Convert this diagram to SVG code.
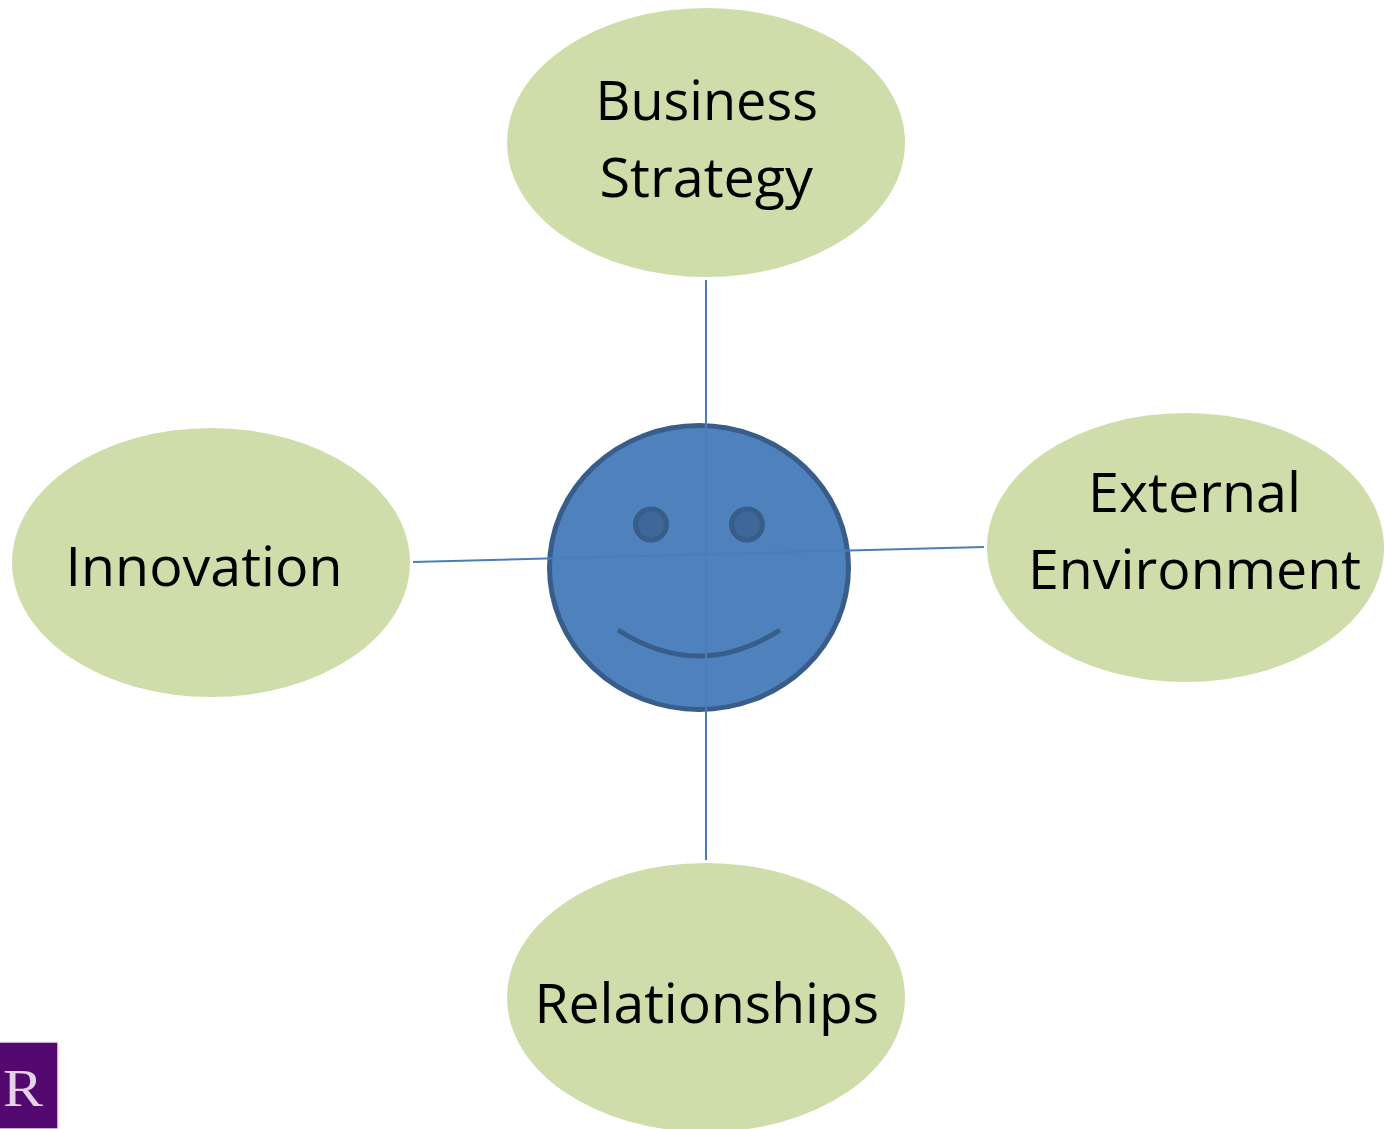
<svg xmlns="http://www.w3.org/2000/svg" width="1384" height="1129" viewBox="0 0 1384 1129">
<style>
.oval{fill:#cfddab}
.lbl{font-family:"Open Sans","Noto Sans","Liberation Sans",sans-serif;font-size:54px;fill:#000}
.conn{stroke:#4a7dba;stroke-width:2;fill:none}
.feat{stroke:#385d8a;stroke-width:5}
</style>
<rect width="1384" height="1129" fill="#fff"/>
<g id="logo">
<rect x="-4" y="1042" width="62" height="87" fill="#52086f" stroke="#f3e6f5" stroke-width="1.500"/>
<text x="3" y="1106" font-family="Liberation Serif,serif" font-size="52" fill="#e6d2e6" textLength="40" lengthAdjust="spacingAndGlyphs">R</text>
</g>
<g id="node-business-strategy">
<ellipse class="oval" cx="706" cy="142.500" rx="199" ry="134.500"/>
<text class="lbl" x="595.500" y="120" textLength="222.500" lengthAdjust="spacingAndGlyphs">Business</text>
<text class="lbl" x="599.500" y="197" textLength="213.500" lengthAdjust="spacingAndGlyphs">Strategy</text>
</g>
<g id="node-innovation">
<ellipse class="oval" cx="211" cy="562.500" rx="199" ry="134.500"/>
<text class="lbl" x="65.500" y="586" textLength="277" lengthAdjust="spacingAndGlyphs">Innovation</text>
</g>
<g id="node-external-environment">
<ellipse class="oval" cx="1185.500" cy="547.500" rx="198.500" ry="134.500"/>
<text class="lbl" x="1088" y="512" textLength="213" lengthAdjust="spacingAndGlyphs">External</text>
<text class="lbl" x="1028" y="589" textLength="333" lengthAdjust="spacingAndGlyphs">Environment</text>
</g>
<g id="node-relationships">
<ellipse class="oval" cx="706" cy="997.500" rx="199" ry="134.500"/>
<text class="lbl" x="534.500" y="1023" textLength="344.500" lengthAdjust="spacingAndGlyphs">Relationships</text>
</g>
<g id="node-smiley">
<ellipse cx="699" cy="567.500" rx="149.500" ry="142" fill="#4f81bd" stroke="#385d8a" stroke-width="5"/>
<circle class="feat" cx="651" cy="524.500" r="15.500" fill="#3f6797"/>
<circle class="feat" cx="747" cy="524.500" r="15.500" fill="#3f6797"/>
<path class="feat" d="M618 630Q699 682 780 630" fill="none"/>
</g>
<g id="connectors">
<line class="conn" x1="706" y1="280" x2="706" y2="860"/>
<line class="conn" x1="413" y1="562" x2="984" y2="547"/>
</g>
</svg>
